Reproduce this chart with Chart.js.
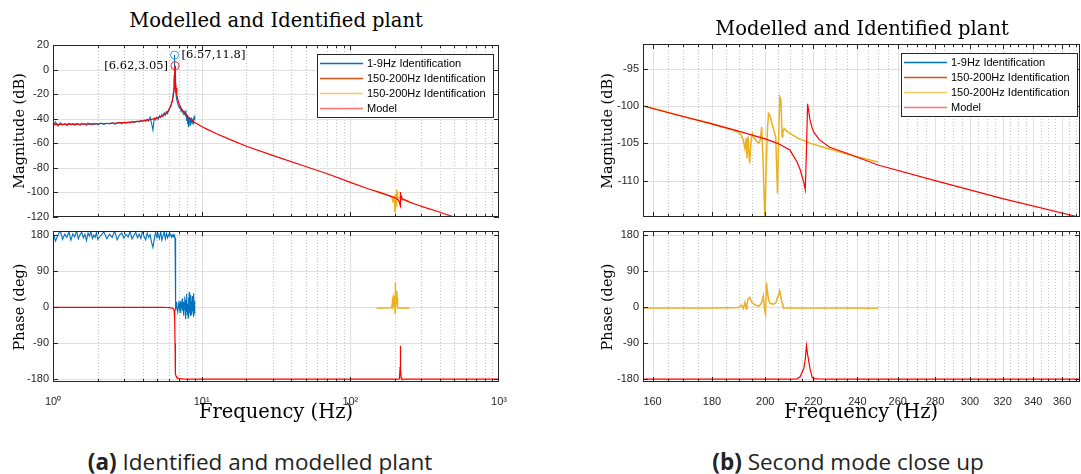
<!DOCTYPE html>
<html>
<head>
<meta charset="utf-8">
<script src="https://cdn.jsdelivr.net/npm/chart.js@4.4.1/dist/chart.umd.min.js"></script>
<style>
  body { margin: 0; background: #fff; width: 1081px; height: 474px; position: relative; overflow: hidden; }
  canvas { position: absolute; }
  .t { position: absolute; white-space: nowrap; color: #000; line-height: 1; }
  .serif { font-family: "DejaVu Serif", serif; }
  .title { font-size: 19.5px; transform: translate(-50%, -50%); }
  .ylab { font-size: 14.5px; transform: translate(-50%, -50%) rotate(-90deg); }
  .xlab { font-size: 19.5px; transform: translate(-50%, -50%); }
  .cap { font-family: "Open Sans", sans-serif; font-size: 22.5px; color: #222; transform: translate(-50%, -50%); }
</style>
</head>
<body>
<canvas id="magFull" width="508" height="190" style="left:0;top:36px"></canvas>
<canvas id="phaseFull" width="508" height="186" style="left:0;top:226px"></canvas>
<canvas id="magZoom" width="521" height="190" style="left:560px;top:36px"></canvas>
<canvas id="phaseZoom" width="521" height="186" style="left:560px;top:226px"></canvas>

<div class="t serif title" style="left:276px;top:21px">Modelled and Identified plant</div>
<div class="t serif title" style="left:862px;top:29px">Modelled and Identified plant</div>
<div class="t serif ylab" style="left:19px;top:131px">Magnitude (dB)</div>
<div class="t serif ylab" style="left:19px;top:307px">Phase (deg)</div>
<div class="t serif ylab" style="left:607px;top:131px">Magnitude (dB)</div>
<div class="t serif ylab" style="left:607px;top:307px">Phase (deg)</div>
<div class="t serif xlab" style="left:276px;top:412px">Frequency (Hz)</div>
<div class="t serif xlab" style="left:861px;top:412px">Frequency (Hz)</div>
<div class="t cap" style="left:260px;top:462px"><b>(a)</b> Identified and modelled plant</div>
<div class="t cap" style="left:848px;top:462px"><b>(b)</b> Second mode close up</div>

<script>
// axis ticks
const decadeTicks = [1, 10, 100, 1000];
const decadeLabels = ['10⁰', '10¹', '10²', '10³'];
const decadeMinor = [2, 3, 4, 5, 6, 7, 8, 9, 20, 30, 40, 50, 60, 70, 80, 90, 200, 300, 400, 500, 600, 700, 800, 900];
const zoomTicks = [160, 180, 200, 220, 240, 260, 280, 300, 320, 340, 360];
const zoomMinor = [165, 170, 175, 185, 190, 195, 205, 210, 215, 225, 230, 235, 245, 250, 255, 265, 270, 275,
  285, 290, 295, 305, 310, 315, 325, 330, 335, 345, 350, 355, 365, 370];
const magTicks = [-120, -100, -80, -60, -40, -20, 0, 20];
const magZoomTicks = [-110, -105, -100, -95];
const phaseTicks = [-180, -90, 0, 90, 180];

const seriesNames = ['1-9Hz Identification', '150-200Hz Identification', '150-200Hz Identification', 'Model'];

// model
const modelFreq = [1, 1.5, 2, 2.5, 3, 3.5, 4, 4.5, 5, 5.5, 5.8, 6.0, 6.2, 6.35, 6.45, 6.52, 6.57, 6.6, 6.62, 6.64,
  6.67, 6.72, 6.8, 6.9, 7.0, 7.2, 7.5, 8, 8.5, 9, 10, 11, 12.5, 15, 20, 30, 50, 70, 100, 130,
  157, 170, 180, 190, 200, 205, 210, 213, 214.3, 215.9, 216.5, 217.0, 217.5, 218.5, 219.5, 220.4, 222.6, 227, 234.7, 250,
  280, 320, 373, 500, 700, 1000];
const modelMag = [-44.6, -44.4, -44.1, -43.7, -43.2, -42.6, -41.8, -40.8, -39.5, -37.4, -35.3, -33.2, -29.6, -25.5, -21.0, -15.5, -8.0, -2.0, 3.05, -3.0,
  -9.5, -15.0, -20.0, -24.0, -26.8, -30.5, -34.0, -38.0, -40.8, -43.0, -46.3, -48.9, -52.0, -56.2, -62.4, -69.8, -78.9, -84.8, -91.8, -96.8,
  -100.0, -101.4, -102.4, -103.4, -104.4, -105.0, -105.9, -107.5, -108.5, -110.3, -111.2, -106.0, -99.7, -101.8, -103.0, -103.6, -104.5, -105.5, -106.3, -107.9,
  -110.0, -112.4, -114.9, -120.0, -125.9, -132.1];
const modelPhase = [0, 0, -0.1, -0.1, -0.1, -0.1, -0.2, -0.2, -0.3, -0.4, -0.5, -0.8, -1.2, -2.0, -3.5, -6, -14, -35, -90, -145,
  -166, -172, -175.5, -177, -178, -178.8, -179.3, -179.6, -179.7, -179.8, -179.8, -179.9, -179.9, -179.9, -180, -180, -180, -180, -180, -180,
  -180, -180, -180, -180, -180, -180, -179.8, -179, -174, -152, -130, -96, -118, -153, -176, -178.5, -179.5, -180, -180, -180,
  -180, -180, -180, -180, -180, -180];

// 1-9 Hz identification
const blueFreq = [1.00, 1.04, 1.08, 1.12, 1.16, 1.20, 1.24, 1.28, 1.32, 1.36, 1.40, 1.44, 1.48, 1.52, 1.56, 1.60, 1.64, 1.68, 1.72, 1.76,
  1.80, 1.84, 1.88, 1.92, 1.96, 2.00,
  2.1, 2.2, 2.3, 2.4, 2.5, 2.6, 2.7, 2.8, 2.9, 3.0, 3.1, 3.2, 3.3, 3.4, 3.5, 3.6, 3.7, 3.8, 3.9, 4.0,
  4.1, 4.2, 4.3, 4.4, 4.5, 4.6, 4.7, 4.8, 4.9, 5.0, 5.1, 5.2, 5.3, 5.4, 5.5, 5.6, 5.7, 5.8, 5.9, 6.0,
  6.1, 6.2, 6.3, 6.4, 6.45, 6.5, 6.53, 6.55, 6.57, 6.59, 6.62, 6.66, 6.7, 6.75, 6.8, 6.9, 7.0,
  7.10, 7.15, 7.20, 7.25, 7.30, 7.35, 7.40, 7.45, 7.50, 7.55, 7.60, 7.65, 7.70, 7.75, 7.80, 7.85, 7.90, 7.95, 8.00, 8.05,
  8.10, 8.15, 8.20, 8.25, 8.30, 8.35, 8.40, 8.45, 8.50, 8.55, 8.60, 8.65, 8.70, 8.75, 8.80, 8.85, 8.90, 8.95, 9.00];
const blueMag = [-46.8, -42.6, -45.9, -43.4, -45.2, -44.0, -45.6, -43.7, -44.9, -44.1, -45.3, -43.9, -44.6, -45.4, -43.8, -44.7, -44.2, -45.5, -43.6, -44.8,
  -44.3, -45.1, -43.9, -44.6, -44.0, -44.9,
  -43.5, -44.6, -43.7, -44.3, -43.2, -44.4, -43.6, -43.0, -44.1, -42.8, -43.6, -42.9, -43.4, -42.2, -43.1, -42.4, -41.9, -42.8, -41.5, -42.3,
  -41.1, -42.0, -40.4, -41.9, -38.9, -43.5, -49.2, -39.6, -41.0, -38.7, -40.4, -37.6, -39.1, -36.5, -38.3, -35.2, -37.0, -34.4, -35.8, -32.6,
  -31.0, -29.2, -26.8, -22.5, -18.5, -12.0, -5.0, 2.5, 11.8, 3.0, -6.0, -13.5, -18.0, -22.0, -24.5, -27.5, -29.8,
  -31.2, -30.4, -32.6, -31.5, -33.4, -32.1, -34.2, -33.0, -35.3, -33.6, -35.8, -34.7, -36.9, -35.1, -38.2, -36.0, -37.4, -41.8, -36.9, -44.6,
  -38.5, -47.0, -39.2, -42.7, -38.8, -45.3, -39.7, -41.6, -40.2, -43.9, -39.5, -42.1, -40.6, -44.2, -39.4, -41.7, -38.6, -40.9, -37.8];
const bluePhase = [188, 166, 181, 192, 170, 183, 175, 189, 168, 184, 176, 191, 171, 182, 188, 174, 183, 167, 186, 178,
  190, 172, 181, 175, 187, 170,
  180, 189, 172, 183, 175, 191, 169, 181, 186, 173, 183, 176, 190, 171, 180, 188, 174, 183, 172, 191,
  177, 169, 186, 175, 182, 163, 150, 170, 188, 175, 183, 172, 190, 168, 180, 189, 171, 185, 174, 182,
  178, 183, 175, 181, 177, 184, 179, 176, 181, 178, 174, 6, -8, 14, 2, -12, 9,
  -4, 16, 3, -14, 11, -2, 22, -9, 7, -21, 13, -6, 27, -3, -30, 18, -11, 34, -18, 9,
  -26, 24, -8, 38, -15, 19, -22, 31, -5, 14, -19, 28, -10, 22, -24, 35, -7, 16, -12];

// 150-250 Hz identification
const yellowFreq = [150, 160, 170, 180, 186.5, 189.6, 190.7, 191.5, 192.1, 192.6, 192.9, 193.3, 193.9, 194.5, 195.0, 195.6, 196.4, 197.4, 198.0, 198.6,
  199.2, 199.9, 200.1, 200.5, 200.9, 201.3, 201.9, 203.2, 204.2, 204.9, 205.2, 205.8, 206.3, 206.8, 207.1, 207.6, 209.2, 213.3, 218.8, 226.2,
  237.2, 250.0];
const yellowMag = [-99.2, -100.3, -101.4, -102.4, -103.1, -103.5, -103.9, -104.6, -105.7, -104.3, -107.0, -104.1, -107.7, -104.6, -103.7, -104.3, -104.6, -105.0, -104.6, -102.8,
  -108.1, -116.0, -112.0, -106.8, -103.0, -101.0, -101.3, -103.0, -104.2, -111.7, -106.8, -98.8, -99.2, -104.1, -103.5, -103.0, -103.5, -104.3, -105.0, -105.7,
  -106.6, -107.5];
const yellowPhase = [-1.5, -1.8, -1.6, -1.8, -1.2, -0.5, 5.7, -3, 12, -4, 8, 20, 25, 17, 10, 8, 5, 2.5, 6, 12,
  29, -12, -17, 62, 37, 19, 10, 8, 11, 25, 29, 41, 25, 10, 4, -2, -1.5, -1.8, -1.5, -2,
  -1.8, -2.2];

// data tips on the first mode
const peakFreq = [6.57, 6.62];
const peakMag = [11.8, 3.05];

const BLUE = '#0072BD', ORANGE = '#D95319', YELLOW = '#EDB120', RED = '#FF0000';

Chart.defaults.font.family = '"Liberation Sans", Arial, sans-serif';
Chart.defaults.font.size = 11;
Chart.defaults.color = '#262626';

function xy(xs, ys) {
  return xs.map((x, i) => ({ x: x, y: ys[i] }));
}

function series(label, color, xs, ys, order, width, legendColor) {
  return {
    label: label, data: xy(xs, ys), borderColor: color, backgroundColor: color,
    borderWidth: width, pointRadius: 0, tension: 0, order: order, legendColor: legendColor || color
  };
}

function magSets() {
  return [
    series(seriesNames[0], BLUE, blueFreq, blueMag, 4, 1.1),
    series(seriesNames[1], ORANGE, [], [], 3, 1.2),
    series(seriesNames[2], YELLOW, yellowFreq, yellowMag, 2, 1.5, 'rgba(237,177,32,0.7)'),
    series(seriesNames[3], RED, modelFreq, modelMag, 1, 1.2, 'rgba(255,0,0,0.55)')
  ];
}

function phaseSets() {
  return [
    series(seriesNames[0], BLUE, blueFreq, bluePhase, 4, 1.1),
    series(seriesNames[1], ORANGE, [], [], 3, 1.2),
    series(seriesNames[2], YELLOW, yellowFreq, yellowPhase, 2, 1.5),
    series(seriesNames[3], RED, modelFreq, modelPhase, 1, 1.2)
  ];
}

function vline(ctx, px, a) {
  px = Math.round(px) + 0.5;
  if (px < a.left || px > a.right) return;
  ctx.beginPath(); ctx.moveTo(px, a.top); ctx.lineTo(px, a.bottom); ctx.stroke();
}

function hline(ctx, py, a) {
  py = Math.round(py) + 0.5;
  if (py < a.top || py > a.bottom) return;
  ctx.beginPath(); ctx.moveTo(a.left, py); ctx.lineTo(a.right, py); ctx.stroke();
}

// grid behind the curves, box and inward ticks on top
const frame = {
  id: 'frame',
  beforeDatasetsDraw(chart, args, o) {
    const ctx = chart.ctx, a = chart.chartArea, x = chart.scales.x, y = chart.scales.y;
    ctx.save();
    ctx.lineWidth = 1;
    ctx.strokeStyle = '#c4c4c4';
    ctx.setLineDash([1, 2]);
    o.xMinor.forEach(v => vline(ctx, x.getPixelForValue(v), a));
    ctx.setLineDash([]);
    ctx.strokeStyle = '#e0e0e0';
    o.xMajor.forEach(v => vline(ctx, x.getPixelForValue(v), a));
    o.yMajor.forEach(v => hline(ctx, y.getPixelForValue(v), a));
    ctx.restore();
  },
  afterDatasetsDraw(chart, args, o) {
    const ctx = chart.ctx, a = chart.chartArea, x = chart.scales.x, y = chart.scales.y;
    const L = Math.round(a.left), R = Math.round(a.right), T = Math.round(a.top), B = Math.round(a.bottom);
    ctx.save();
    ctx.strokeStyle = '#262626';
    ctx.lineWidth = 1;
    ctx.beginPath();
    const xTick = (v, len) => {
      const px = Math.round(x.getPixelForValue(v)) + 0.5;
      if (px < L || px > R) return;
      ctx.moveTo(px, T); ctx.lineTo(px, T + len);
      ctx.moveTo(px, B); ctx.lineTo(px, B - len);
    };
    o.xMajor.forEach(v => xTick(v, 5));
    o.xMinor.forEach(v => xTick(v, 3));
    o.yMajor.forEach(v => {
      const py = Math.round(y.getPixelForValue(v)) + 0.5;
      ctx.moveTo(L, py); ctx.lineTo(L + 5, py);
      ctx.moveTo(R, py); ctx.lineTo(R - 5, py);
    });
    ctx.stroke();
    ctx.strokeRect(L + 0.5, T + 0.5, R - L - 1, B - T - 1);
    ctx.restore();
  }
};

const legendBox = {
  id: 'legendBox',
  afterDatasetsDraw(chart, args, o) {
    const ctx = chart.ctx, a = chart.chartArea;
    const items = chart.data.datasets.filter(d => d.label);
    const w = 176, h = 63;
    const left = Math.round(a.right - o.inset - w), top = Math.round(a.top + 9);
    ctx.save();
    ctx.fillStyle = '#fff';
    ctx.fillRect(left, top, w, h);
    ctx.strokeStyle = '#262626';
    ctx.lineWidth = 1;
    ctx.strokeRect(left + 0.5, top + 0.5, w, h);
    ctx.font = '11px "Liberation Sans", Arial, sans-serif';
    ctx.textBaseline = 'middle';
    items.forEach((d, i) => {
      const yy = top + 9.5 + i * 15;
      ctx.strokeStyle = d.legendColor;
      ctx.lineWidth = 1.5;
      ctx.beginPath(); ctx.moveTo(left + 3, yy); ctx.lineTo(left + 46, yy); ctx.stroke();
      ctx.fillStyle = '#000';
      ctx.fillText(d.label, left + 50, yy);
    });
    ctx.restore();
  }
};

const peakTags = {
  id: 'peakTags',
  afterDatasetsDraw(chart) {
    const ctx = chart.ctx, x = chart.scales.x, y = chart.scales.y;
    ctx.save();
    ctx.font = '11.5px "DejaVu Serif", serif';
    ctx.fillStyle = '#000';
    ctx.textBaseline = 'middle';
    peakFreq.forEach((f, i) => {
      const px = x.getPixelForValue(f), py = y.getPixelForValue(peakMag[i]);
      const txt = '[' + f + ',' + peakMag[i] + ']';
      if (i === 0) { ctx.textAlign = 'left'; ctx.fillText(txt, px + 7, py); }
      else { ctx.textAlign = 'right'; ctx.fillText(txt, px - 7, py); }
    });
    ctx.restore();
  }
};

function bodePanel(id, c) {
  return new Chart(document.getElementById(id), {
    type: 'line',
    data: { datasets: c.datasets },
    options: {
      animation: false,
      responsive: false,
      devicePixelRatio: 1,
      layout: { padding: c.padding },
      plugins: {
        legend: { display: false },
        tooltip: { enabled: false },
        frame: { xMajor: c.xMajor, xMinor: c.xMinor, yMajor: c.yTicks },
        legendBox: { inset: c.legendInset }
      },
      scales: {
        x: {
          type: 'logarithmic', min: c.xMin, max: c.xMax,
          grid: { display: false }, border: { display: false },
          ticks: { display: c.xLabels, autoSkip: false, maxRotation: 0, minRotation: 0, padding: 5, callback: c.xFormat },
          afterBuildTicks: s => { s.ticks = c.xMajor.concat(c.xMinor).sort((p, q) => p - q).map(v => ({ value: v })); },
          afterFit: s => { s.height = c.xHeight; s.paddingLeft = 0; s.paddingRight = 0; }
        },
        y: {
          type: 'linear', min: c.yMin, max: c.yMax,
          grid: { display: false, drawTicks: false }, border: { display: false },
          ticks: { padding: 4 },
          afterBuildTicks: s => { s.ticks = c.yTicks.map(v => ({ value: v })); },
          afterFit: s => { s.width = c.yWidth; s.paddingTop = 0; s.paddingBottom = 0; }
        }
      }
    },
    plugins: c.plugins
  });
}

const decadeFormat = v => { const i = decadeTicks.indexOf(v); return i >= 0 ? decadeLabels[i] : ''; };
const zoomFormat = v => zoomTicks.includes(v) ? String(v) : '';

// (a) full frequency range
const tips = {
  label: undefined, data: xy(peakFreq, peakMag), showLine: false, order: 0,
  pointRadius: 4, pointHoverRadius: 4, pointBorderWidth: 1,
  pointBorderColor: ['#3c9be0', '#ff2020'], pointBackgroundColor: 'rgba(0,0,0,0)'
};
bodePanel('magFull', {
  datasets: magSets().concat([tips]),
  padding: { top: 9, right: 9, left: 0, bottom: 0 },
  xMin: 1, xMax: 1000, xMajor: decadeTicks, xMinor: decadeMinor, xLabels: false, xFormat: decadeFormat, xHeight: 9,
  yMin: -120, yMax: 20, yTicks: magTicks, yWidth: 53, legendInset: 6,
  plugins: [frame, legendBox, peakTags]
});
bodePanel('phaseFull', {
  datasets: phaseSets(),
  padding: { top: 5, right: 9, left: 0, bottom: 0 },
  xMin: 1, xMax: 1000, xMajor: decadeTicks, xMinor: decadeMinor, xLabels: true, xFormat: decadeFormat, xHeight: 30,
  yMin: -187, yMax: 191, yTicks: phaseTicks, yWidth: 53,
  plugins: [frame]
});

// (b) close up around the second mode
bodePanel('magZoom', {
  datasets: magSets(),
  padding: { top: 8, right: 1, left: 0, bottom: 0 },
  xMin: 157, xMax: 373, xMajor: zoomTicks, xMinor: zoomMinor, xLabels: false, xFormat: zoomFormat, xHeight: 9,
  yMin: -114.86, yMax: -91.7, yTicks: magZoomTicks, yWidth: 83, legendInset: 3,
  plugins: [frame, legendBox]
});
bodePanel('phaseZoom', {
  datasets: phaseSets(),
  padding: { top: 5, right: 1, left: 0, bottom: 0 },
  xMin: 157, xMax: 373, xMajor: zoomTicks, xMinor: zoomMinor, xLabels: true, xFormat: zoomFormat, xHeight: 30,
  yMin: -187, yMax: 191, yTicks: phaseTicks, yWidth: 83,
  plugins: [frame]
});
</script>
</body>
</html>
